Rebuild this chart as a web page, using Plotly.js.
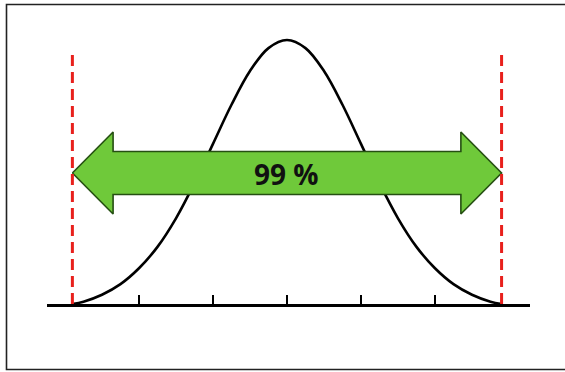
<!DOCTYPE html>
<html>
<head>
<meta charset="utf-8">
<script src="https://cdn.plot.ly/plotly-3.0.1.min.js"></script>
<style>html,body{margin:0;padding:0;background:#fff;}#chart{width:565px;height:372px;}</style>
</head>
<body>
<div id="chart"></div>
<script>
// Bell-curve values (z in sigma units, density)
const zValues = [-2.9, -2.75, -2.5, -2.25, -2, -1.75, -1.5, -1.25, -1, -0.75, -0.5, -0.25, 0,
                 0.25, 0.5, 0.75, 1, 1.25, 1.5, 1.75, 2, 2.25, 2.5, 2.75, 2.9];
const density = [0.0000, 0.0035, 0.0140, 0.0300, 0.0540, 0.0863, 0.1295, 0.1826, 0.2420, 0.3011, 0.3521, 0.3867, 0.3989,
                 0.3867, 0.3521, 0.3011, 0.2420, 0.1826, 0.1295, 0.0863, 0.0540, 0.0300, 0.0140, 0.0035, 0.0000];
// Interval bounds (dashed lines) and tick positions
const bounds = [-2.9, 2.9];
const tickValues = [-2, -1, 0, 1, 2];
const coverageLabel = "99 %";

// Arrow geometry (style / position, not data)
const arrowY = 0.198, shaftHalf = 0.0325, headHalf = 0.062, headLen = 0.55;
const lineTop = 0.3793;

const L = bounds[0], R = bounds[1];
const arrowX = [L, L + headLen, L + headLen, R - headLen, R - headLen, R, R - headLen, R - headLen, L + headLen, L + headLen, L];
const arrowYs = [arrowY, arrowY + headHalf, arrowY + shaftHalf, arrowY + shaftHalf, arrowY + headHalf, arrowY,
                 arrowY - headHalf, arrowY - shaftHalf, arrowY - shaftHalf, arrowY - headHalf, arrowY];

const traces = [
  {x: zValues, y: density, mode: 'lines', line: {color: '#000', width: 2.6, shape: 'spline', smoothing: 1}, hoverinfo: 'skip'},
  {x: arrowX, y: arrowYs, mode: 'lines', fill: 'toself', fillcolor: '#6fc93a',
   line: {color: '#254f12', width: 1.6}, hoverinfo: 'skip'},
  {x: [L, L], y: [0, lineTop], mode: 'lines', line: {color: '#e8201c', width: 3, dash: '11px,6px'}, hoverinfo: 'skip'},
  {x: [R, R], y: [0, lineTop], mode: 'lines', line: {color: '#e8201c', width: 3, dash: '11px,6px'}, hoverinfo: 'skip'}
];

const layout = {
  width: 565, height: 372,
  margin: {l: 0, r: 0, t: 0, b: 0},
  paper_bgcolor: '#fff', plot_bgcolor: 'rgba(0,0,0,0)',
  showlegend: false,
  xaxis: {domain: [47/565, 530/565], range: [-3.243, 3.284], showgrid: false, zeroline: false,
          showline: true, linecolor: '#000', linewidth: 2.5, ticks: 'inside', ticklen: 9, tickwidth: 2,
          tickcolor: '#000', tickvals: tickValues, showticklabels: false, fixedrange: true},
  yaxis: {domain: [68/372, 1], range: [0, 0.4594], visible: false, fixedrange: true},
  shapes: [
    {type: 'rect', xref: 'paper', yref: 'paper', x0: 6.5/565, x1: 570/565, y0: (372-369.5)/372, y1: (372-4.5)/372,
     line: {color: '#222', width: 1.6}, fillcolor: 'rgba(0,0,0,0)', layer: 'below'}
  ],
  annotations: [
    {x: 0, y: arrowY, xref: 'x', yref: 'y', text: '<b>' + coverageLabel + '</b>', showarrow: false,
     font: {family: 'Open Sans, sans-serif', size: 28, color: '#111'}, yshift: -1}
  ]
};

Plotly.newPlot('chart', traces, layout, {staticPlot: true, displayModeBar: false});
</script>
</body>
</html>
